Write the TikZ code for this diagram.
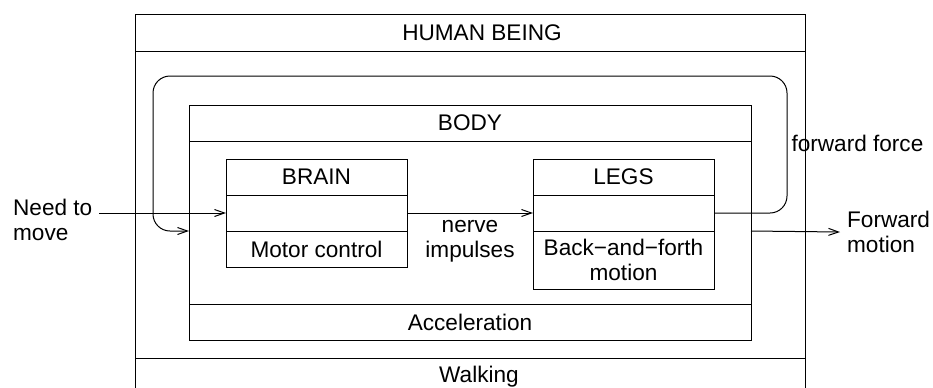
\documentclass[tikz,border=0pt]{standalone}
\usepackage{fontspec}
\setmainfont{Liberation Sans}
\usepackage{tikz}
\usetikzlibrary{positioning,arrows.meta}

\tikzset{
  cell/.style={draw, inner sep=0pt, outer sep=0pt, anchor=north west},
}

\begin{document}
\begin{tikzpicture}[x=0.5pt,y=-0.5pt,line width=0.5pt,
  font=\fontsize{11.3}{12.5}\selectfont,
  >={Straight Barb[length=5pt,width=3.5pt]}]
\useasboundingbox (0,0) rectangle (933,387);
\clip (0,0) rectangle (933,387);

\draw (135,14) rectangle (805,400);
\draw (135,51) -- (805,51);
\draw (135,358) -- (805,358);
\node (human) at (482,33) {HUMAN BEING};
\node (walking) at (479,377) {Walking};

\node[cell, minimum width=281pt, minimum height=18pt] (bodyhead) at (189,105) {BODY};
\node[cell, minimum width=281pt, minimum height=81.5pt, below=0pt of bodyhead] (bodymid) {};
\node[cell, minimum width=281pt, minimum height=18pt, below=0pt of bodymid] (bodybot) {Acceleration};

\node[cell, minimum width=90.5pt, minimum height=18pt] (brainhead) at (226,159) {BRAIN};
\node[cell, minimum width=90.5pt, minimum height=18pt, below=0pt of brainhead] (brainmid) {};
\node[cell, minimum width=90.5pt, minimum height=18pt, below=0pt of brainmid] (brainbot) {Motor control};

\node[cell, minimum width=90.5pt, minimum height=18pt] (legshead) at (533,159) {LEGS};
\node[cell, minimum width=90.5pt, minimum height=18pt, below=0pt of legshead] (legsmid) {};
\node[cell, minimum width=90.5pt, minimum height=29pt, below=0pt of legsmid, align=center] (legsbot) {Back−and−forth\\motion};

\node[align=left, anchor=west] (need) at (6,220) {Need to\\move};
\node[align=left, anchor=west] (fwd) at (840,232) {Forward\\motion};
\node[anchor=west, inner sep=2pt] (force) at (787,143) {forward force};

\coordinate (loopne) at (787,76);
\coordinate (loopnw) at (153,76);

\draw[->] (need.east |- brainmid.west) -- (brainmid.west);
\draw[->] (brainmid.east) -- (legsmid.west) node[midway, below, align=center] (nerve) {nerve\\impulses};
\draw[->, rounded corners=8.5pt] (legsmid.east) -| (loopne) -- (loopnw) |- (bodymid.west |- brainbot.north);
\draw[->] (bodymid.east |- legsbot.north) -- (fwd.west);
\end{tikzpicture}
\end{document}
